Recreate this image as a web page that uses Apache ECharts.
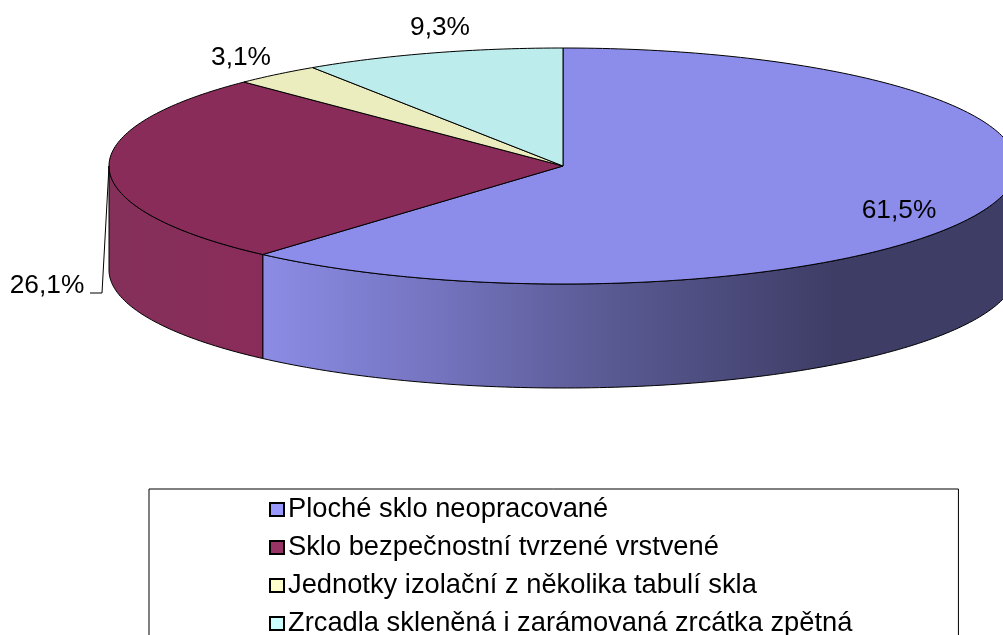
<!DOCTYPE html>
<html>
<head>
<meta charset="utf-8">
<style>
html, body { margin: 0; padding: 0; background: #fff; }
#chart { width: 1003px; height: 635px; }
</style>
<script src="https://cdn.jsdelivr.net/npm/echarts@6/dist/echarts.min.js"></script>
</head>
<body>
<div id="chart"></div>
<script>
var categories = [
	"Ploché sklo neopracované",
	"Sklo bezpečnostní tvrzené vrstvené",
	"Jednotky izolační z několika tabulí skla",
	"Zrcadla skleněná i zarámovaná zrcátka zpětná"
];
var shares = [61.5, 26.1, 3.1, 9.3];
var topColors = ["#8c8ceb", "#8a2c5a", "#ecedbe", "#bcecec"];
var legendColors = ["#9999ff", "#993366", "#ffffcc", "#ccffff"];
var labelCenters = [[899, 211], [47, 286], [241, 58], [440, 28]];

// hloubka valce v jednotkach osy y
var DEPTH = 104 / 118;
var LEADER = 1;

function point(api, deg, drop) {
	var a = deg * Math.PI / 180;
	return api.coord([Math.sin(a), Math.cos(a) - (drop || 0)]);
}

function wallFill(i) {
	if (i == 0) {
		return new echarts.graphic.LinearGradient(262, 0, 835, 0, [
			{ offset: 0, color: "#8c8ce6" },
			{ offset: 0.3, color: "#7474c0" },
			{ offset: 0.6, color: "#5a5a94" },
			{ offset: 1, color: "#3e3d66" }
		], true);
	}
	return new echarts.graphic.LinearGradient(109, 0, 262, 0, [
		{ offset: 0, color: "#84305a" },
		{ offset: 1, color: "#8a2c5a" }
	], true);
}

function renderSlice(params, api) {
	var i = params.seriesIndex;
	var start = 0;
	for (var k = 0; k < i; k++) {
		start += shares[k];
	}
	var from = start * 3.6;
	var to = (start + api.value(0)) * 3.6;
	var children = [];
	var d;

	// bocni stena, jen predni cast valce
	var wallFrom = Math.max(from, 90);
	var wallTo = Math.min(to, 270);
	if (wallTo > wallFrom) {
		var wall = [];
		for (d = wallFrom; d < wallTo; d++) {
			wall.push(point(api, d, 0));
		}
		wall.push(point(api, wallTo, 0));
		wall.push(point(api, wallTo, DEPTH));
		for (d = wallTo; d > wallFrom; d--) {
			wall.push(point(api, d, DEPTH));
		}
		wall.push(point(api, wallFrom, DEPTH));
		children.push({
			type: "polygon",
			shape: { points: wall },
			style: { fill: wallFill(i), stroke: "#000", lineWidth: 1 }
		});
	}

	// horni plocha
	var top = [api.coord([0, 0])];
	for (d = from; d < to; d++) {
		top.push(point(api, d, 0));
	}
	top.push(point(api, to, 0));
	children.push({
		type: "polygon",
		shape: { points: top },
		style: { fill: topColors[i], stroke: "#000", lineWidth: 1 }
	});

	if (i == LEADER) {
		var c = labelCenters[i];
		var anchor = point(api, 270, 0);
		children.push({
			type: "polyline",
			shape: { points: [[c[0] + 43, c[1] + 7], [c[0] + 55, c[1] + 7], anchor] },
			style: { fill: null, stroke: "#000", lineWidth: 1 }
		});
	}

	children.push({
		type: "text",
		x: labelCenters[i][0],
		y: labelCenters[i][1],
		z2: 10,
		style: {
			text: String(api.value(0)).replace(".", ",") + "%",
			font: "26.3px 'Liberation Sans', Arial, sans-serif",
			fill: "#000",
			align: "center",
			verticalAlign: "middle"
		}
	});
	return { type: "group", children: children };
}

var chart = echarts.init(document.getElementById("chart"));

var series = [];
var legendData = [];
for (var i = 0; i < shares.length; i++) {
	series.push({
		type: "custom",
		name: categories[i],
		coordinateSystem: "cartesian2d",
		clip: false,
		silent: true,
		encode: { x: 0 },
		renderItem: renderSlice,
		data: [[shares[i]]]
	});
	legendData.push({
		name: categories[i],
		itemStyle: { color: legendColors[i], borderColor: "#000", borderWidth: 2 }
	});
}

chart.setOption({
	animation: false,
	backgroundColor: "#fff",
	// elipsa: stred 563, poloosa 454, prava strana je oriznuta oknem
	grid: { left: 109, top: 48, right: 0, height: 236 },
	xAxis: { type: "value", min: -1, max: 440 / 454, show: false },
	yAxis: { type: "value", min: -1, max: 1, show: false },
	legend: {
		orient: "vertical",
		left: 149,
		top: 489,
		height: 300,
		padding: [7, 106, 60, 120],
		icon: "rect",
		itemWidth: 14,
		itemHeight: 13,
		itemGap: 11,
		selectedMode: false,
		backgroundColor: "#fff",
		borderColor: "#000",
		borderWidth: 1,
		textStyle: { fontFamily: "'Liberation Sans', Arial, sans-serif", fontSize: 27.3, color: "#000", padding: [0, 0, 0, -1] },
		data: legendData
	},
	series: series
});
</script>
</body>
</html>
